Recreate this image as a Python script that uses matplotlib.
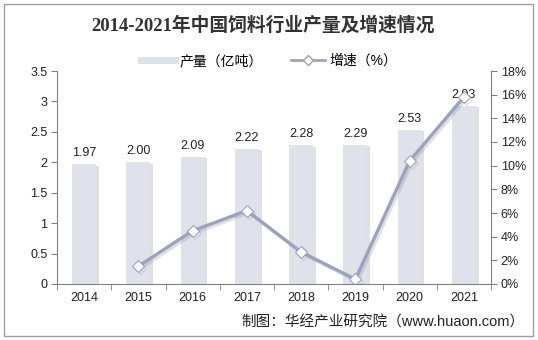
import matplotlib
matplotlib.use("Agg")
import matplotlib.pyplot as plt
import matplotlib.patheffects as pe
from matplotlib.patches import Rectangle
from matplotlib.lines import Line2D
from matplotlib.ticker import FuncFormatter, MultipleLocator, FixedLocator
import numpy as np

plt.rcParams['font.family'] = ['Liberation Sans', 'Noto Sans CJK SC', 'DejaVu Sans']

years = ["2014", "2015", "2016", "2017", "2018", "2019", "2020", "2021"]
output = [1.97, 2.00, 2.09, 2.22, 2.28, 2.29, 2.53, 2.93]
growth_years = ["2015", "2016", "2017", "2018", "2019", "2020", "2021"]
growth = [1.5, 4.5, 6.2, 2.7, 0.4, 10.4, 15.8]

title = "2014-2021年中国饲料行业产量及增速情况"
bar_label = "产量（亿吨）"
line_label = "增速（%）"
source = "制图：华经产业研究院（www.huaon.com）"

bar_color = "#DFE2EB"
line_color = "#9DA3BD"
axis_color = "#808080"

fig = plt.figure(figsize=(5.38, 3.40), dpi=100)
fig.patches.append(Rectangle((4 / 538, 4 / 340), 529 / 538, 332 / 340,
                             transform=fig.transFigure, fill=False,
                             edgecolor="#A0A0A0", linewidth=1.0))

ax = fig.add_axes([57 / 538, 56 / 340, 434 / 538, 213 / 340])
x = np.arange(len(years))
bars = ax.bar(x, output, width=0.44, color=bar_color, zorder=2)
for b in bars:
    b.set_path_effects([pe.SimplePatchShadow(offset=(2, -1), shadow_rgbFace="#999999", alpha=0.3),
                        pe.Normal()])
for xi, v in zip(x, output):
    ax.text(xi, v + 0.08, f"{v:.2f}", ha="center", va="bottom", fontsize=9, color="#222222", zorder=5)

ax.set_xlim(-0.5, len(years) - 0.5)
ax.set_ylim(0, 3.5)
ax.yaxis.set_major_locator(MultipleLocator(0.5))
ax.yaxis.set_major_formatter(FuncFormatter(lambda v, p: f"{v:g}"))
ax.set_xticks(x)
ax.set_xticklabels(years)
ax.xaxis.set_minor_locator(FixedLocator(np.arange(-0.5, len(years), 1.0)))
ax.tick_params(axis="x", which="major", length=0, pad=6, labelsize=9, labelcolor="#222222")
ax.tick_params(axis="x", which="minor", length=4, color=axis_color, direction="out")
ax.tick_params(axis="y", length=4, color=axis_color, labelsize=9, labelcolor="#222222", pad=3)
for s in ["top", "right"]:
    ax.spines[s].set_visible(False)
ax.spines["left"].set_color(axis_color)
ax.spines["bottom"].set_color(axis_color)

ax2 = ax.twinx()
gx = [years.index(y) for y in growth_years]
ax2.plot(gx, growth, color=line_color, linewidth=2.4, zorder=4,
         marker="D", markersize=6, markerfacecolor="white", markeredgecolor=line_color,
         markeredgewidth=0.8,
         path_effects=[pe.SimpleLineShadow(offset=(1.5, -1.5), shadow_color="#999999", alpha=0.3), pe.Normal()])
ax2.set_ylim(0, 18)
ax2.yaxis.set_major_locator(MultipleLocator(2))
ax2.yaxis.set_major_formatter(FuncFormatter(lambda v, p: f"{v:.0f}%"))
ax2.tick_params(axis="y", length=4, color=axis_color, labelsize=9, labelcolor="#222222", pad=3)
for s in ["top", "left", "bottom"]:
    ax2.spines[s].set_visible(False)
ax2.spines["right"].set_color(axis_color)

fig.text(0.488, 1 - 25 / 340, title, ha="center", va="center", fontsize=13.5,
         fontweight="bold", color="#333333",
         family=["Liberation Serif", "Noto Sans CJK SC", "DejaVu Sans"])

handles = [Line2D([0], [0], color=bar_color, linewidth=5),
           Line2D([0], [0], color=line_color, linewidth=2, marker="D", markersize=5,
                  markerfacecolor="white", markeredgecolor=line_color)]
fig.legend(handles, [bar_label, line_label], loc="center", bbox_to_anchor=(0.5, 1 - 61 / 340),
           ncol=2, frameon=False, fontsize=10, handlelength=2.5, columnspacing=2.0,
           handletextpad=0.3)

fig.text(525 / 538, 1 - 322 / 340, source, ha="right", va="center", fontsize=10.5, color="#222222")

fig.savefig("out.png", dpi=100)
